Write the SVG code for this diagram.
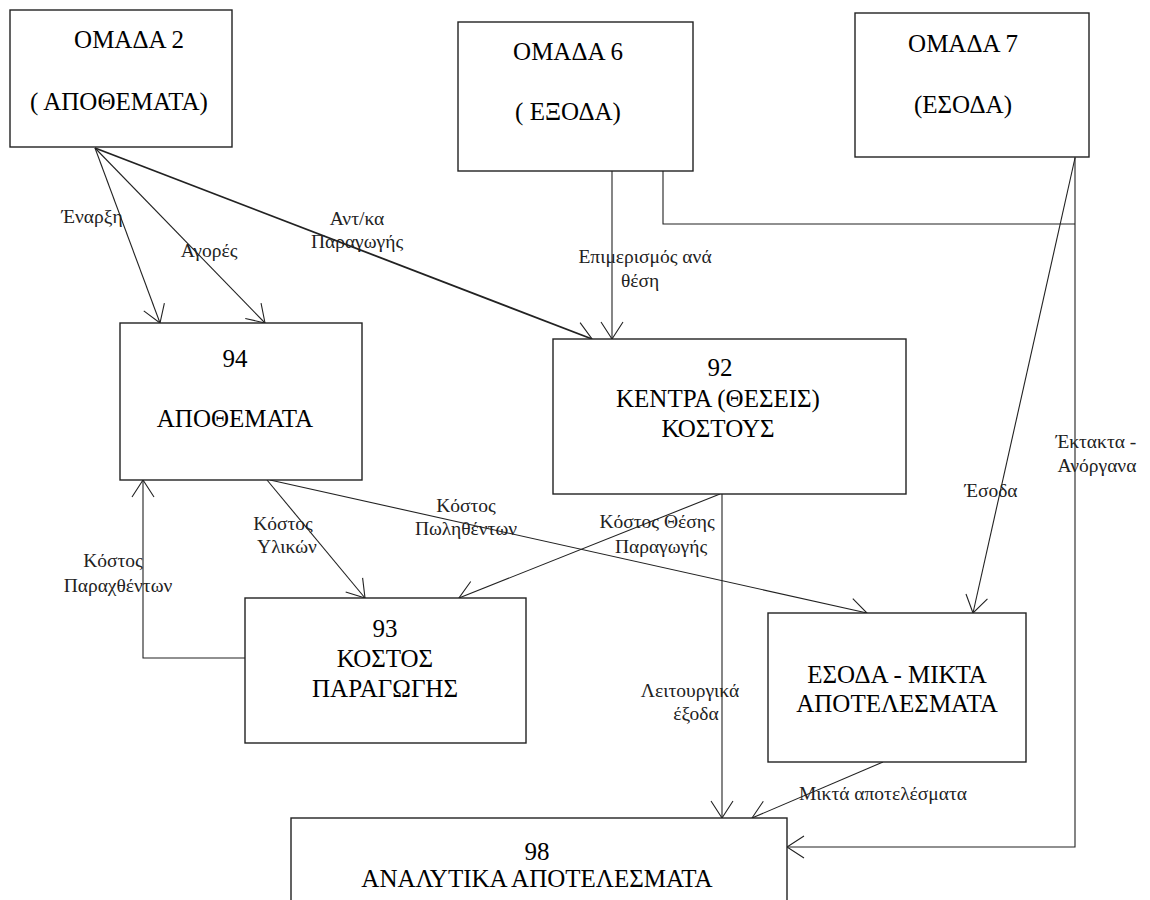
<svg xmlns="http://www.w3.org/2000/svg" width="1150" height="900" viewBox="0 0 1150 900">
<style>
.box{fill:#fff;stroke:#222;stroke-width:1.4}
.t{font-family:'Liberation Serif','DejaVu Serif','Times New Roman',serif;font-size:25px;fill:#000;text-anchor:middle}
.l{font-family:'Liberation Serif','DejaVu Serif','Times New Roman',serif;font-size:19.5px;fill:#222;text-anchor:middle}
.c{fill:none;stroke:#222;stroke-width:1.1}
.thick{stroke-width:1.8}
</style>
<defs>
<marker id="ah" viewBox="-20 -13 22 26" markerWidth="22" markerHeight="26" refX="0" refY="0" orient="auto" markerUnits="userSpaceOnUse">
<path d="M-17,-11 L0,0 L-17,11" fill="none" stroke="#222" stroke-width="1.1"/>
</marker>
</defs>
<rect width="1150" height="900" fill="#fff"/>
<g id="connectors">
<line class="c" x1="95" y1="148" x2="160" y2="323" marker-end="url(#ah)"/>
<line class="c" x1="95" y1="148" x2="265" y2="323" marker-end="url(#ah)"/>
<line class="c thick" x1="95" y1="148" x2="592" y2="339" marker-end="url(#ah)"/>
<line class="c" x1="612" y1="171" x2="612" y2="339" marker-end="url(#ah)"/>
<polyline class="c" points="663,171 663,224 1075,224"/>
<polyline class="c" points="1075,157 1075,847 787,847" marker-end="url(#ah)"/>
<line class="c" x1="1075" y1="158" x2="973" y2="613" marker-end="url(#ah)"/>
<line class="c" x1="267" y1="480" x2="365" y2="598" marker-end="url(#ah)"/>
<line class="c" x1="270" y1="480" x2="867" y2="613" marker-end="url(#ah)"/>
<polyline class="c" points="245,658 143,658 143,480" marker-end="url(#ah)"/>
<line class="c" x1="720" y1="494" x2="459" y2="598" marker-end="url(#ah)"/>
<line class="c" x1="722" y1="494" x2="722" y2="818" marker-end="url(#ah)"/>
<line class="c" x1="883" y1="762" x2="752" y2="818" marker-end="url(#ah)"/>
</g>
<g id="labels">
<text class="l" x="92" y="223">Έναρξη</text>
<text class="l" x="209" y="257">Αγορές</text>
<text class="l" x="357" y="225">Αντ/κα</text>
<text class="l" x="357" y="248">Παραγωγής</text>
<text class="l" x="645" y="263">Επιμερισμός ανά</text>
<text class="l" x="640" y="287">θέση</text>
<text class="l" x="283" y="530">Κόστος</text>
<text class="l" x="287" y="553">Υλικών</text>
<text class="l" x="113" y="567">Κόστος</text>
<text class="l" x="118" y="592">Παραχθέντων</text>
<text class="l" x="466" y="512">Κόστος</text>
<text class="l" x="466" y="535">Πωληθέντων</text>
<text class="l" x="657" y="528">Κόστος Θέσης</text>
<text class="l" x="661" y="553">Παραγωγής</text>
<text class="l" x="690" y="697">Λειτουργικά</text>
<text class="l" x="696" y="720">έξοδα</text>
<text class="l" x="991" y="497">Έσοδα</text>
<text class="l" x="1096" y="448">Έκτακτα -</text>
<text class="l" x="1097" y="472">Ανόργανα</text>
<text class="l" x="883" y="800">Μικτά αποτελέσματα</text>
</g>
<g id="omada2">
<rect class="box" x="10" y="10" width="222" height="137"/>
<text class="t" x="129" y="48">ΟΜΑΔΑ 2</text>
<text class="t" x="119" y="110">( ΑΠΟΘΕΜΑΤΑ)</text>
</g>
<g id="omada6">
<rect class="box" x="458" y="22" width="235" height="149"/>
<text class="t" x="568" y="60">ΟΜΑΔΑ 6</text>
<text class="t" x="568" y="120">( ΕΞΟΔΑ)</text>
</g>
<g id="omada7">
<rect class="box" x="855" y="13" width="234" height="144"/>
<text class="t" x="963" y="52">ΟΜΑΔΑ 7</text>
<text class="t" x="963" y="113">(ΕΣΟΔΑ)</text>
</g>
<g id="n94">
<rect class="box" x="120" y="323" width="242" height="157"/>
<text class="t" x="235" y="367">94</text>
<text class="t" x="235" y="427">ΑΠΟΘΕΜΑΤΑ</text>
</g>
<g id="n92">
<rect class="box" x="553" y="339" width="353" height="155"/>
<text class="t" x="720" y="376">92</text>
<text class="t" x="718" y="407">ΚΕΝΤΡΑ (ΘΕΣΕΙΣ)</text>
<text class="t" x="718" y="437">ΚΟΣΤΟΥΣ</text>
</g>
<g id="n93">
<rect class="box" x="245" y="598" width="281" height="145"/>
<text class="t" x="385" y="637">93</text>
<text class="t" x="385" y="667">ΚΟΣΤΟΣ</text>
<text class="t" x="385" y="697">ΠΑΡΑΓΩΓΗΣ</text>
</g>
<g id="esoda">
<rect class="box" x="768" y="613" width="258" height="149"/>
<text class="t" x="897" y="683">ΕΣΟΔΑ - ΜΙΚΤΑ</text>
<text class="t" x="897" y="712">ΑΠΟΤΕΛΕΣΜΑΤΑ</text>
</g>
<g id="n98">
<rect class="box" x="291" y="818" width="496" height="95"/>
<text class="t" x="537" y="860">98</text>
<text class="t" x="537" y="887">ΑΝΑΛΥΤΙΚΑ ΑΠΟΤΕΛΕΣΜΑΤΑ</text>
</g>
</svg>
